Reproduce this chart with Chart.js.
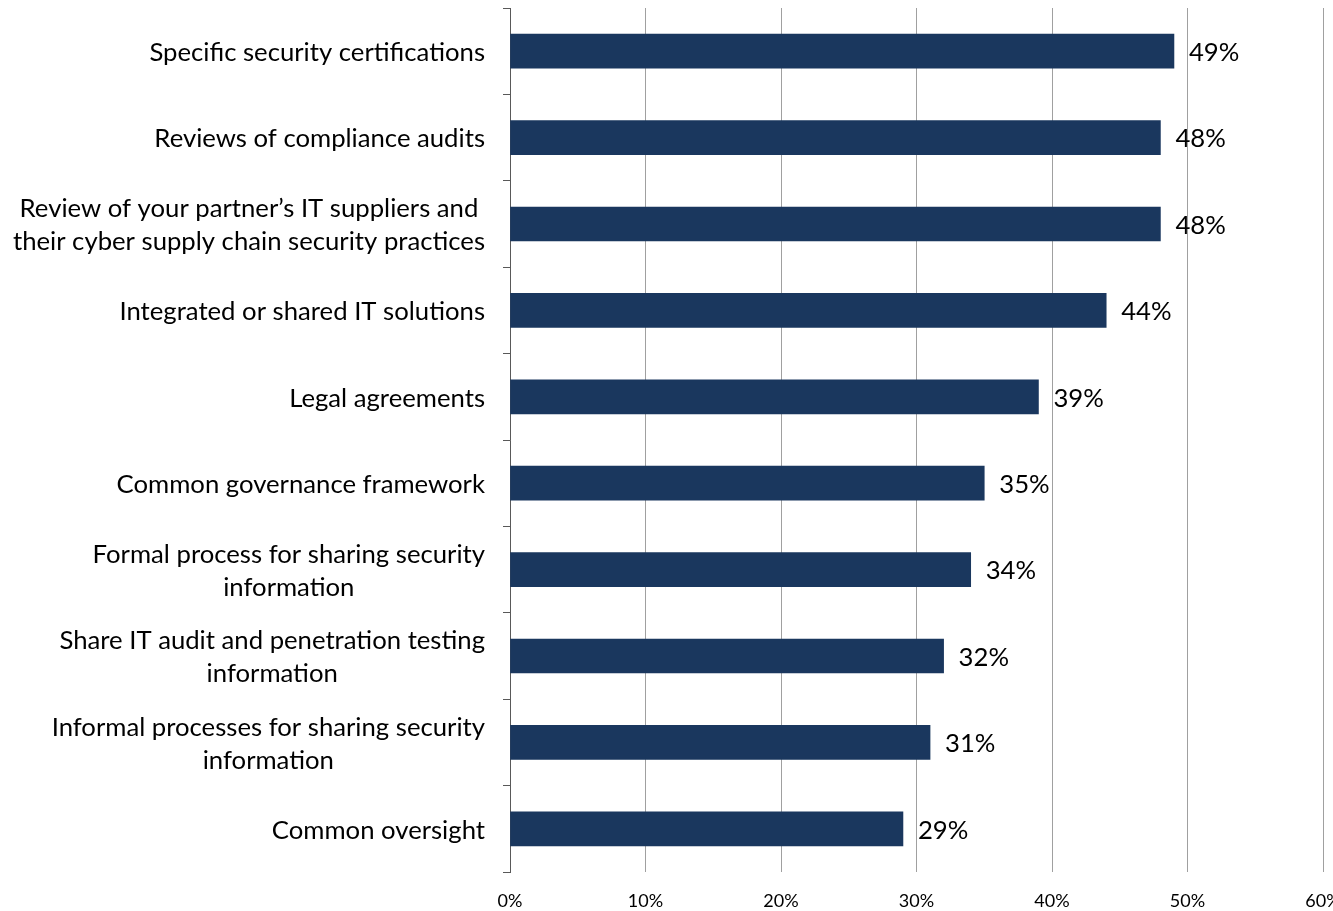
<!DOCTYPE html>
<html>
<head>
<meta charset="utf-8">
<script src="https://cdn.jsdelivr.net/npm/chart.js@4.4.1/dist/chart.umd.min.js"></script>
<style>
  html, body { margin: 0; padding: 0; background: #fff; overflow: hidden; }
  #wrap { width: 1333px; height: 911px; }
</style>
</head>
<body>
<div id="wrap"><canvas id="c" width="1333" height="911"></canvas></div>
<script>
// Survey: measures taken with partners to manage cyber supply chain risk
const categories = [
  ['Specific security certifications'],
  ['Reviews of compliance audits'],
  ['Review of your partner\u2019s IT suppliers and', 'their cyber supply chain security practices'],
  ['Integrated or shared IT solutions'],
  ['Legal agreements'],
  ['Common governance framework'],
  ['Formal process for sharing security', 'information'],
  ['Share IT audit and penetration testing', 'information'],
  ['Informal processes for sharing security', 'information'],
  ['Common oversight']
];
const shares = [49, 48, 48, 44, 39, 35, 34, 32, 31, 29];
const xTicks = [0, 10, 20, 30, 40, 50, 60];

const FONT = 'Lato, "Noto Sans", sans-serif';
const LABEL_SIZE = 25.7;
const BAR_COLOR = '#1A375E';

// Category labels: each block right-aligned to the axis, lines centred within the block
const categoryLabels = {
  id: 'categoryLabels',
  afterDraw(chart) {
    const ctx = chart.ctx;
    const y = chart.scales.y;
    const lineH = 33;
    ctx.save();
    ctx.font = LABEL_SIZE + 'px ' + FONT;
    ctx.fillStyle = '#000';
    ctx.textBaseline = 'middle';
    ctx.textAlign = 'center';
    const rightEdge = y.right - 25;
    categories.forEach((lines, i) => {
      const cy = y.getPixelForValue(i) + 1.5;
      const w = Math.max(...lines.map(l => ctx.measureText(l).width));
      const cx = rightEdge - w / 2;
      const y0 = cy - (lines.length - 1) * lineH / 2;
      lines.forEach((l, k) => ctx.fillText(l, cx, y0 + k * lineH));
    });
    ctx.restore();
  }
};

// Value labels just past the end of each bar
const valueLabels = {
  id: 'valueLabels',
  afterDatasetsDraw(chart) {
    const ctx = chart.ctx;
    const meta = chart.getDatasetMeta(0);
    ctx.save();
    ctx.font = LABEL_SIZE + 'px ' + FONT;
    ctx.fillStyle = '#000';
    ctx.textBaseline = 'middle';
    ctx.textAlign = 'left';
    meta.data.forEach((bar, i) => {
      ctx.fillText(shares[i] + '%', bar.x + 15, bar.y + 1.5);
    });
    ctx.restore();
  }
};

new Chart(document.getElementById('c'), {
  type: 'bar',
  data: {
    labels: categories.map(c => c.join(' ')),
    datasets: [{
      data: shares,
      backgroundColor: BAR_COLOR,
      borderWidth: 0,
      barThickness: 34
    }]
  },
  options: {
    indexAxis: 'y',
    responsive: false,
    animation: false,
    layout: { padding: { top: 8, right: 10, left: 0, bottom: 0 } },
    plugins: { legend: { display: false }, tooltip: { enabled: false } },
    scales: {
      x: {
        min: 0,
        max: 60,
        afterBuildTicks(scale) { scale.ticks = xTicks.map(v => ({ value: v })); },
        afterFit(scale) { scale.height = 39; scale.paddingLeft = 0; scale.paddingRight = 0; },
        ticks: {
          padding: 18,
          color: '#000',
          font: { family: FONT, size: 18 },
          callback: v => v + '%'
        },
        grid: { color: '#a0a0a0', lineWidth: 1, drawTicks: false },
        border: { display: false }
      },
      y: {
        afterFit(scale) { scale.width = 510; scale.paddingTop = 0; scale.paddingBottom = 0; },
        ticks: { display: false },
        grid: {
          offset: true,
          drawOnChartArea: false,
          drawTicks: true,
          tickLength: 7,
          color: '#595959',
          lineWidth: 1
        },
        border: { display: true, color: '#595959', width: 1 }
      }
    }
  },
  plugins: [categoryLabels, valueLabels]
});
</script>
</body>
</html>
